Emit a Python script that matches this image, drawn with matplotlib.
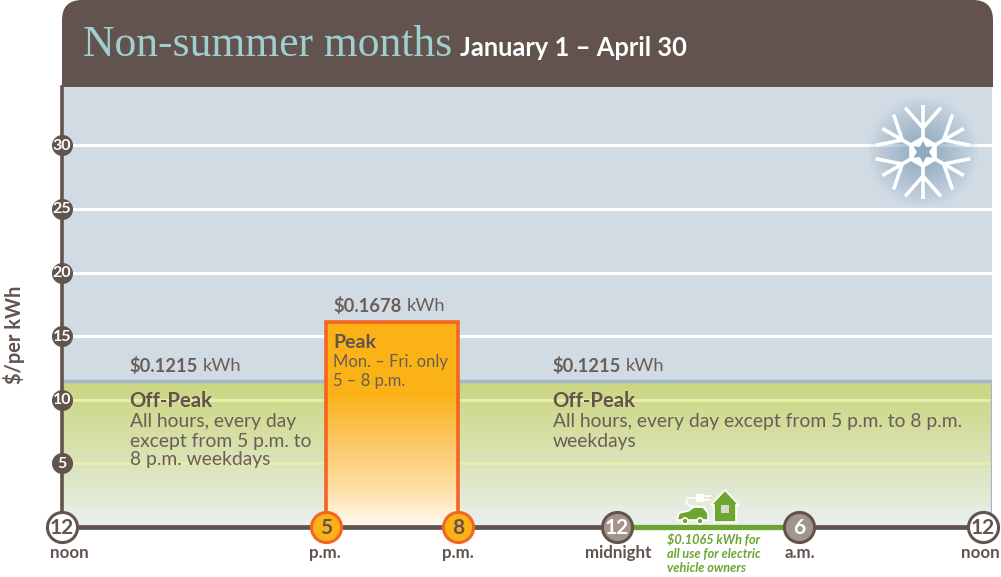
import numpy as np
import matplotlib
matplotlib.use("Agg")
import matplotlib.pyplot as plt
from matplotlib.patches import Circle, FancyBboxPatch, Polygon, Rectangle

plt.rcParams['font.family'] = ['Lato', 'DejaVu Sans']

title = 'Non-summer months'
subtitle = 'January 1 – April 30'
y_ticks = [5, 10, 15, 20, 25, 30]
grid_top = [15, 20, 25, 30]
grid_low = [5, 10]
offpeak_top = 11.45
peak_top = 16.08
peak_start, peak_end = 5, 8
hours = [0, 5, 8, 12, 18, 24]
hour_labels = ['12', '5', '8', '12', '6', '12']
hour_names = ['noon', 'p.m.', 'p.m.', 'midnight', 'a.m.', 'noon']
ev_start, ev_end = 12, 18

BROWN = '#62534e'
TXT = '#6b5d57'
GREEN = '#6ea531'
ORANGE = '#f26522'
AMBER = '#fbb216'
TAUPE = '#a39589'

# the hour axis of the original is not linear, so map it piecewise
hour_px = [0, 5, 8, 12, 18, 24, 25]
px_pos = [62, 326, 458, 617, 799, 983, 1014]


def to_px(h):
    return np.interp(h, hour_px, px_pos)


def from_px(p):
    return np.interp(p, px_pos, hour_px)


fig = plt.figure(figsize=(10.01, 5.77), dpi=100, facecolor='white')
W, H = 1001.0, 577.0

# main plot area, pixels 62..992 by 87..527
ax = fig.add_axes([62 / W, 1 - 527 / H, 930 / W, 440 / H])
ax.set_xscale('function', functions=(to_px, from_px))
ax.set_xlim(0, from_px(992))
ax.set_ylim(0, 440 / 12.72)
ax.set_facecolor('#d0dbe4')
for s in ax.spines.values():
    s.set_visible(False)
ax.set_xticks([])
ax.set_yticks([])


def gradient(x0, x1, y0, y1, stops_y, stops_c, z):
    ye = np.linspace(y0, y1, 120)
    ym = 0.5 * (ye[1:] + ye[:-1])
    rgb = np.array([matplotlib.colors.to_rgb(c) for c in stops_c])
    col = np.stack([np.interp(ym, stops_y, rgb[:, i]) for i in range(3)], axis=-1)
    ax.pcolormesh([x0, x1], ye, col[:, None, :], shading='flat', zorder=z,
                  antialiased=False, linewidth=0, rasterized=True)


for v in grid_top:
    ax.axhline(v, color='white', lw=2.2, zorder=1)

right = from_px(992)
gradient(0, right, 0, offpeak_top, [0, 3, 8, offpeak_top],
         ['#ebf0f0', '#e0e8cf', '#d3dd9c', '#c9d67f'], 2)
for v in grid_low:
    ax.axhline(v, color='#e8eda8', lw=2.2, zorder=3)
ax.plot([0, right, right], [offpeak_top, offpeak_top, 0], color='#a3b7cf', lw=2.4, zorder=4)

gradient(peak_start, peak_end, 0, peak_top, [0, 3, 7, 10.5, peak_top],
         ['#fffaf2', '#ffdfa6', '#fdc45e', AMBER, AMBER], 5)
ax.plot([peak_start, peak_start, peak_end, peak_end], [0, peak_top, peak_top, 0],
        color=ORANGE, lw=2.6, zorder=6, solid_joinstyle='miter')

# axis lines
ax.plot([0, 0], [0, 440 / 12.72], color=BROWN, lw=2.6, zorder=7, clip_on=False)
ax.plot([0, 24], [0, 0], color=BROWN, lw=3.4, zorder=7, clip_on=False)
ax.plot([ev_start, ev_end], [0, 0], color=GREEN, lw=3.8, zorder=8, clip_on=False)

# y ticks
ax.scatter([0] * len(y_ticks), y_ticks, s=230, color=BROWN, zorder=9, clip_on=False, linewidths=0)
for v in y_ticks:
    ax.text(0, v - 0.03, str(v), color='white', fontsize=11.5, fontweight='bold', ha='center',
            va='center', zorder=10, clip_on=False)

# hour ticks, the two noon names sit a little inwards
face = ['white', AMBER, AMBER, TAUPE, TAUPE, 'white']
edge = [BROWN, ORANGE, ORANGE, BROWN, BROWN, BROWN]
fg = [BROWN, BROWN, BROWN, 'white', 'white', BROWN]
name_dx = [7, -1, 0, 1, 1, -3]
for h, lab, nm, f, e, c, dx in zip(hours, hour_labels, hour_names, face, edge, fg, name_dx):
    ax.scatter([h], [0], s=470, facecolor=f, edgecolor=e, linewidths=2.2, zorder=11, clip_on=False)
    ax.text(h, -0.05, lab, color=c, fontsize=15, fontweight='bold', ha='center', va='center',
            zorder=12, clip_on=False)
    ax.annotate(nm, (h, 0), xytext=(dx * 0.72, -18.4), textcoords='offset points', color=BROWN,
                fontsize=12.2, fontweight='bold', ha='center', va='center',
                annotation_clip=False, zorder=12)

# page layer in pixel coordinates, for header, notes and pictures
page = fig.add_axes([0, 0, 1, 1], facecolor='none')
page.set_xlim(0, W)
page.set_ylim(H, 0)
page.axis('off')

page.add_patch(FancyBboxPatch((82, 20), 891, 47, boxstyle='round,pad=20,rounding_size=20',
                              color=BROWN, lw=0))
page.add_patch(Rectangle((62, 50), 931, 37, color=BROWN, lw=0))
page.text(83, 45, title, color='#9fcfd0', fontsize=31.4, family='Liberation Serif', va='center')
page.text(460, 48, subtitle, color='white', fontsize=18.4, fontweight='bold', va='center')

page.text(14, 335, '$/per kWh', color=BROWN, fontsize=14.4, fontweight='bold', rotation=90,
          ha='center', va='center')


def price(x, y, val):
    t = page.text(x, y, val, color=TXT, fontsize=13.2, fontweight='bold', va='center')
    bb = t.get_window_extent(fig.canvas.get_renderer())
    page.text(x + bb.width + 5, y, 'kWh', color=TXT, fontsize=13.2, va='center')


price(129, 366, '$0.1215')
price(333, 306, '$0.1678')
price(552, 366, '$0.1215')

body = 13.9
for x in (129, 552):
    page.text(x, 401, 'Off-Peak', color=BROWN, fontsize=14.6, fontweight='bold', va='center')
for y, s in zip([421, 441, 460], ['All hours, every day', 'except from 5 p.m. to', '8 p.m. weekdays']):
    page.text(130, y, s, color=TXT, fontsize=body, va='center')
for y, s in zip([421, 441], ['All hours, every day except from 5 p.m. to 8 p.m.', 'weekdays']):
    page.text(553, y, s, color=TXT, fontsize=body, va='center')
page.text(333, 342, 'Peak', color=BROWN, fontsize=14, fontweight='bold', va='center')
page.text(333, 362, 'Mon. – Fri. only', color=TXT, fontsize=12, va='center')
page.text(333, 381, '5 – 8 p.m.', color=TXT, fontsize=12, va='center')

for y, s in zip([539, 554, 568], ['$0.1065 kWh for', 'all use for electric', 'vehicle owners']):
    page.text(667, y, s, color=GREEN, fontsize=9.2, fontweight='bold', style='italic', va='center')

# snowflake with its glow
cx, cy = 923, 152
gy, gx = np.mgrid[-62:62:125j, -62:62:125j]
r = np.hypot(gx, gy)
glow = np.zeros(r.shape + (4,))
glow[..., :3] = matplotlib.colors.to_rgb('#8ba6be')
glow[..., 3] = np.clip(1 - r / 56, 0, 1) ** 0.85
page.imshow(glow, extent=(cx - 62, cx + 62, cy + 62, cy - 62), zorder=1, interpolation='bilinear')
page.set_xlim(0, W)
page.set_ylim(H, 0)
page.set_aspect('auto')
for a in np.radians(np.arange(30, 360, 60)):
    ux, uy = np.cos(a), np.sin(a)
    page.plot([cx + 14 * ux, cx + 47 * ux], [cy + 14 * uy, cy + 47 * uy], color='white', lw=2.6,
              solid_capstyle='butt', zorder=2)
    for d in (-0.72, 0.72):
        page.plot([cx + 24 * ux, cx + 24 * ux + 27 * np.cos(a + d)],
                  [cy + 24 * uy, cy + 24 * uy + 27 * np.sin(a + d)], color='white', lw=2.6,
                  solid_capstyle='butt', zorder=2)
ang = np.radians(np.arange(30, 360, 60))
page.add_patch(Polygon(np.c_[cx + 16 * np.cos(ang), cy + 16 * np.sin(ang)], color='white', lw=0, zorder=3))
ang2 = np.radians(np.arange(0, 360, 30))
rad = np.where(np.arange(12) % 2 == 0, 6, 11)
page.add_patch(Polygon(np.c_[cx + rad * np.cos(ang2), cy + rad * np.sin(ang2)],
                       color='#8fa9c0', lw=0, zorder=4))

# electric vehicle and house pictures
page.add_patch(Polygon([(711, 505), (725, 490), (739, 505), (736, 505), (736, 522), (714, 522), (714, 505)],
                       facecolor=GREEN, edgecolor='white', lw=1.2, zorder=5))
page.add_patch(Rectangle((721, 505), 8, 8, facecolor='#d8d8d0', edgecolor='none', zorder=6))
page.add_patch(Polygon([(677, 520), (679, 513), (688, 511), (694, 507), (703, 507), (708, 513), (708, 520)],
                       facecolor=GREEN, edgecolor='white', lw=1.2, zorder=5))
for x in (685, 700):
    page.add_patch(Circle((x, 521), 3, facecolor=GREEN, edgecolor='white', lw=1.2, zorder=6))
page.add_patch(Rectangle((696, 494), 8, 8, facecolor='white', lw=0, zorder=5))
page.plot([704, 710], [496, 496], color='white', lw=1.3, zorder=5)
page.plot([704, 710], [500, 500], color='white', lw=1.3, zorder=5)
page.plot([696, 688, 686, 690, 704, 708], [498, 498, 503, 506, 507, 513], color='white', lw=1.1, zorder=5)

fig.savefig('out.png', dpi=100)
